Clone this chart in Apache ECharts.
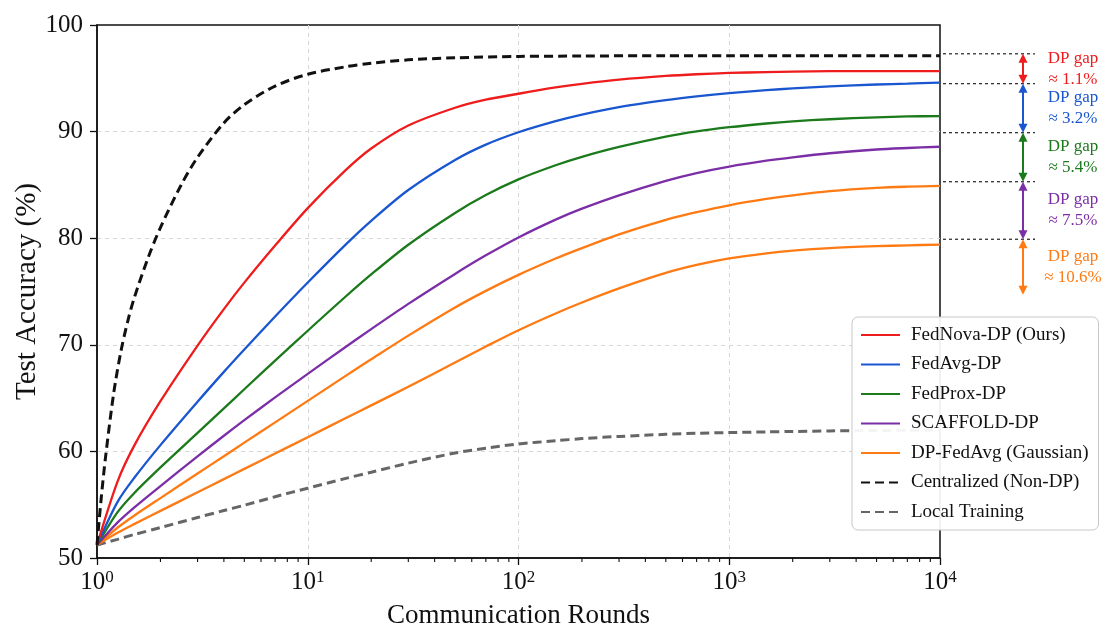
<!DOCTYPE html>
<html><head><meta charset="utf-8">
<script src="https://cdn.jsdelivr.net/npm/echarts@6/dist/echarts.min.js"></script>
<style>html,body{margin:0;padding:0;background:#fff;}#c{width:1105px;height:628px;}</style>
</head><body><div id="c"></div>
<script>
// ---- data ----
const rounds = [1, 1.25, 1.5, 2, 3, 4, 5, 7, 10, 15, 20, 30, 50, 70, 100, 150, 200, 300, 500, 700, 1000, 1500, 2000, 3000, 5000, 7000, 10000];
const fedNova  = [51.22, 57.15, 60.52, 64.71, 69.93, 73.35, 75.83, 79.31, 82.82, 86.31, 88.41, 90.57, 92.24, 92.99, 93.55, 94.14, 94.48, 94.87, 95.22, 95.38, 95.5, 95.58, 95.63, 95.67, 95.68, 95.68, 95.68];
const fedAvg   = [51.22, 55.24, 57.5, 60.59, 64.66, 67.46, 69.56, 72.65, 75.84, 79.33, 81.63, 84.52, 87.34, 88.78, 89.94, 90.98, 91.6, 92.3, 92.95, 93.3, 93.61, 93.89, 94.05, 94.24, 94.42, 94.5, 94.59];
const fedProx  = [51.22, 54.28, 56.08, 58.5, 61.74, 64.04, 65.83, 68.51, 71.32, 74.46, 76.6, 79.39, 82.37, 84.05, 85.52, 86.84, 87.63, 88.56, 89.53, 90.02, 90.41, 90.76, 90.96, 91.16, 91.34, 91.42, 91.46];
const scaffold = [51.22, 53.32, 54.73, 56.75, 59.54, 61.47, 62.93, 65.07, 67.27, 69.75, 71.47, 73.84, 76.65, 78.39, 80.07, 81.74, 82.77, 84.02, 85.38, 86.11, 86.72, 87.27, 87.59, 87.97, 88.32, 88.46, 88.58];
const dpFedAvgUpper = [51.22, 52.84, 53.97, 55.62, 57.92, 59.55, 60.82, 62.72, 64.74, 67.04, 68.64, 70.86, 73.5, 75.06, 76.56, 78.09, 79.07, 80.36, 81.72, 82.44, 83.09, 83.68, 84.02, 84.41, 84.72, 84.83, 84.9];
const dpFedAvgLower = [51.22, 52.36, 53.18, 54.42, 56.16, 57.4, 58.36, 59.8, 61.33, 63.08, 64.32, 66.06, 68.34, 69.84, 71.37, 72.94, 73.97, 75.29, 76.74, 77.49, 78.1, 78.58, 78.83, 79.07, 79.25, 79.33, 79.4];
const localTraining = [51.22, 51.75, 52.2, 52.85, 53.8, 54.45, 54.95, 55.75, 56.55, 57.45, 58.05, 58.9, 59.85, 60.3, 60.7, 61.0, 61.2, 61.4, 61.6, 61.7, 61.77, 61.83, 61.87, 61.92, 61.96, 61.98, 62.0];
const centralRounds = [1, 1.05, 1.1, 1.2, 1.3, 1.4, 1.5, 1.75, 2, 2.5, 3, 4, 5, 7, 10, 15, 20, 30, 50, 100, 200, 500, 1000, 2000, 5000, 10000];
const centralized   = [51.22, 55.86, 59.61, 65.46, 69.43, 72.23, 74.36, 78.2, 81.0, 84.94, 87.59, 90.81, 92.53, 94.27, 95.38, 96.07, 96.42, 96.73, 96.92, 97.05, 97.09, 97.12, 97.12, 97.12, 97.12, 97.12];

const seriesNames = ['FedNova-DP (Ours)', 'FedAvg-DP', 'FedProx-DP', 'SCAFFOLD-DP', 'DP-FedAvg (Gaussian)', 'Centralized (Non-DP)', 'Local Training'];
const yTicks = [50, 60, 70, 80, 90, 100];
const minorTicks = [2,3,4,5,6,7,8,9, 20,30,40,50,60,70,80,90, 200,300,400,500,600,700,800,900, 2000,3000,4000,5000,6000,7000,8000,9000];
const gapLevels = [97.3, 94.5, 89.9, 85.3, 79.9];
const gapBottoms = [94.5, 89.9, 85.3, 79.9, 74.7];
const gapLabels = ['≈ 1.1%', '≈ 3.2%', '≈ 5.4%', '≈ 7.5%', '≈ 10.6%'];

// ---- style ----
const FONT = "'Liberation Serif', 'DejaVu Serif', serif";
const C = { red: '#ee1c1c', blue: '#1a56d0', green: '#1b7a1b', purple: '#7b2ea6', orange: '#ff7a12', black: '#111111', gray: '#666666' };
const gapColors = [C.red, C.blue, C.green, C.purple, C.orange];

const pair = (xs, ys) => xs.map((x, i) => [x, ys[i]]);
function lineSeries(name, xs, ys, color, dashed, width, z) {
  return {
    name, type: 'line', data: pair(xs, ys), symbol: 'none', smooth: 0.3, z: z || 3,
    itemStyle: { color },
    lineStyle: { color, width: width || 2.3, type: dashed ? [9, 5] : 'solid' },
    emphasis: { disabled: true }, animation: false
  };
}

const chart = echarts.init(document.getElementById('c'), null, { renderer: 'canvas' });
const option = {
  backgroundColor: '#ffffff',
  animation: false,
  grid: { left: 97, right: 165, top: 25, bottom: 70, outerBoundsMode: 'none', containLabel: false, show: true, borderColor: '#111', borderWidth: 1.5, backgroundColor: 'transparent' },
  xAxis: {
    type: 'log', logBase: 10, min: 1, max: 10000,
    name: 'Communication Rounds', nameLocation: 'middle', nameGap: 44, nameMoveOverlap: false,
    nameTextStyle: { fontFamily: FONT, fontSize: 27, color: '#111' },
    axisLine: { show: true, lineStyle: { color: '#111', width: 1.5 } },
    axisTick: { show: true, inside: false, length: 7, lineStyle: { color: '#111', width: 1.3 } },
    axisLabel: {
      margin: 11, color: '#111',
      formatter: v => '{b|10}{s|' + Math.round(Math.log10(v)) + '}',
      rich: {
        b: { fontFamily: FONT, fontSize: 25, color: '#111', lineHeight: 26, verticalAlign: 'bottom' },
        s: { fontFamily: FONT, fontSize: 17, color: '#111', lineHeight: 16, verticalAlign: 'top' }
      }
    },
    splitLine: { show: true, showMinLine: false, showMaxLine: false, lineStyle: { color: '#d6d6d6', width: 1, type: [4, 4] } }
  },
  yAxis: {
    type: 'value', min: 50, max: 100, interval: 10,
    name: 'Test Accuracy (%)', nameLocation: 'middle', nameGap: 55, nameRotate: 90, nameMoveOverlap: false,
    nameTextStyle: { fontFamily: FONT, fontSize: 29, color: '#111' },
    axisLine: { show: true, lineStyle: { color: '#111', width: 1.5 } },
    axisTick: { show: true, inside: false, length: 7, lineStyle: { color: '#111', width: 1.3 } },
    axisLabel: { margin: 14, fontFamily: FONT, fontSize: 25, color: '#111', formatter: v => yTicks.includes(v) ? String(v) : '' },
    splitLine: { show: true, showMinLine: false, showMaxLine: false, lineStyle: { color: '#d6d6d6', width: 1, type: [4, 4] } }
  },
  legend: {
    orient: 'vertical', left: 852, top: 317,
    data: seriesNames,
    itemWidth: 39, itemHeight: 14, itemGap: 9.5,
    itemStyle: { opacity: 0 },
    padding: [8, 10, 8, 8],
    backgroundColor: 'rgba(255,255,255,0.93)', borderColor: '#c8c8c8', borderWidth: 1, borderRadius: 6,
    textStyle: { fontFamily: FONT, fontSize: 19, color: '#111', lineHeight: 20, padding: [0, 0, 0, 6] },
    selectedMode: false, z: 10
  },
  series: [
    lineSeries('Local Training', rounds, localTraining, C.gray, true, 3, 2),
    lineSeries('DP-FedAvg (Gaussian)', rounds, dpFedAvgLower, C.orange),
    lineSeries('DP-FedAvg (Gaussian)', rounds, dpFedAvgUpper, C.orange),
    lineSeries('SCAFFOLD-DP', rounds, scaffold, C.purple),
    lineSeries('FedProx-DP', rounds, fedProx, C.green),
    lineSeries('FedAvg-DP', rounds, fedAvg, C.blue),
    lineSeries('FedNova-DP (Ours)', rounds, fedNova, C.red),
    lineSeries('Centralized (Non-DP)', centralRounds, centralized, C.black, true, 3, 4),
    {
      type: 'custom', name: 'minor', silent: true, clip: false, z: 5,
      data: minorTicks.map(v => [v, 50]),
      encode: { x: 0, y: 1 },
      renderItem: (params, api) => {
        const p = api.coord([api.value(0), api.value(1)]);
        return { type: 'line', shape: { x1: p[0], y1: p[1], x2: p[0], y2: p[1] + 4 }, style: { stroke: '#111', lineWidth: 1.1 } };
      }
    },
    {
      type: 'custom', name: 'levels', silent: true, clip: false, z: 5,
      data: gapLevels.map(v => [10000, v]),
      encode: { x: 0, y: 1 },
      renderItem: (params, api) => {
        const p = api.coord([api.value(0), api.value(1)]);
        return { type: 'line', shape: { x1: p[0] + 3, y1: p[1], x2: p[0] + 95, y2: p[1] }, style: { stroke: '#333', lineWidth: 1.3, lineDash: [3, 3] } };
      }
    },
    {
      type: 'custom', name: 'gaps', silent: true, clip: false, z: 6,
      data: gapLevels.map((v, i) => [10000, v, gapBottoms[i], i]),
      encode: { x: 0, y: 1 },
      renderItem: (params, api) => {
        const i = api.value(3);
        const pt = api.coord([api.value(0), api.value(1)]);
        const pb = api.coord([api.value(0), api.value(2)]);
        const col = gapColors[i];
        const x = pt[0] + 83, y1 = pt[1], y2 = pb[1];
        const hw = 4.5, hl = 9;
        return {
          type: 'group', children: [
            { type: 'line', shape: { x1: x, y1: y1 + hl - 1, x2: x, y2: y2 - hl + 1 }, style: { stroke: col, lineWidth: 2 } },
            { type: 'polygon', shape: { points: [[x, y1], [x - hw, y1 + hl], [x + hw, y1 + hl]] }, style: { fill: col } },
            { type: 'polygon', shape: { points: [[x, y2], [x - hw, y2 - hl], [x + hw, y2 - hl]] }, style: { fill: col } },
            { type: 'text', style: { text: 'DP gap\n' + gapLabels[i], x: pt[0] + 133, y: (y1 + y2) / 2, align: 'center', verticalAlign: 'middle', fontFamily: FONT, fontSize: 17, lineHeight: 21, fill: col } }
          ]
        };
      }
    }
  ]
};
chart.setOption(option);
</script>
</body></html>
